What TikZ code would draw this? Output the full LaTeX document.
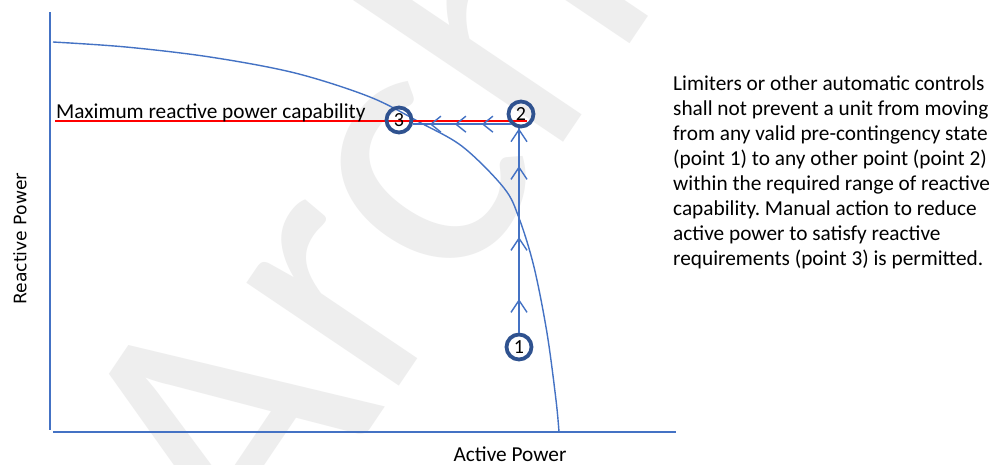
\documentclass[tikz,border=0pt]{standalone}
\usepackage{fontspec}
\setmainfont{Carlito}
\newfontfamily\dejavu{DejaVu Sans}
\usetikzlibrary{arrows.meta,decorations.markings}
\definecolor{lineblue}{RGB}{68,114,196}
\definecolor{ringblue}{RGB}{47,82,143}
\definecolor{wmgray}{RGB}{238,238,238}
\frenchspacing
\begin{document}
\begin{tikzpicture}[x=1pt,y=-1pt,
  axisline/.style={draw=lineblue, line width=2pt},
  capcurve/.style={draw=lineblue, line width=1.4pt},
  flowline/.style={draw=lineblue, line width=1.4pt},
  ring/.style={circle, draw=ringblue, line width=3.8pt, minimum size=25pt, inner sep=0pt, font=\fontsize{20}{20}\selectfont},
  txt/.style={inner sep=0pt, font=\fontsize{21.3}{25}\selectfont}
]
\useasboundingbox (0,0) rectangle (991,464);
\fill[white] (0,0) rectangle (991,464);
% watermark
\node[wmgray, rotate=56, anchor=base west, inner sep=0pt, font=\fontsize{385}{385}\selectfont] (wm) at (261,591) {Archive};
% axes
\coordinate (ytop) at (50,12);
\coordinate (ybot) at (50,430);
\coordinate (xl) at (53,432);
\coordinate (xr) at (676,432);
\draw[axisline] (ytop) -- (ybot);
\draw[axisline] (xl) -- (xr);
% capability curve
\draw[capcurve] plot[smooth, tension=0.55] coordinates {(53,42) (126,47) (210,57) (295,73) (370,97) (421,123) (463,147) (504,188) (519,218) (534,267) (547,333) (556,400) (559,432)};
% max reactive line
\coordinate (rl) at (55,121);
\coordinate (rr) at (527,121);
\draw[red, line width=1.8pt] (rl) -- (rr);
\node[txt, anchor=base west] (maxlbl) at (56,118) {Maximum reactive power capability};
% points
\node[ring] (c1) at (519,347) {1};
\node[ring] (c2) at (521,114) {2};
\node[ring] (c3) at (399,120) {3};
% vertical flow
\draw[flowline, decoration={markings,
   mark=at position 33.5pt with {\arrow{Straight Barb[length=12pt, width=16pt]}},
   mark=at position 95.5pt with {\arrow{Straight Barb[length=12pt, width=16pt]}},
   mark=at position 166.5pt with {\arrow{Straight Barb[length=12pt, width=16pt]}},
   mark=at position 1 with {\arrow{Straight Barb[length=12pt, width=16pt]}}}, postaction={decorate}]
   (c1.north) -- (c1.north |- c2.south);
% horizontal flow
\draw[flowline, decoration={markings,
   mark=at position 29pt with {\arrow{Straight Barb[length=10pt, width=16pt]}},
   mark=at position 56pt with {\arrow{Straight Barb[length=10pt, width=16pt]}},
   mark=at position 81pt with {\arrow{Straight Barb[length=10pt, width=16pt]}}}, postaction={decorate}]
   (c2.south west) -- (c3.east |- c2.south west);
% axis labels
\node[txt, anchor=base] (xlbl) at (510,461) {Active Power};
\node[inner sep=0pt, rotate=90, anchor=base, font=\dejavu\fontsize{17.2}{17.2}\selectfont] (ylbl) at (26.5,239) {Reactive Power};
% description
\node[txt, anchor=north west, align=left] (desc) at (673,75.5) {Limiters or other automatic controls\\shall not prevent a unit from moving\\from any valid pre-contingency state\\(point 1) to any other point (point 2)\\within the required range of reactive\\capability. Manual action to reduce\\active power to satisfy reactive\\requirements (point 3) is permitted.};
\end{tikzpicture}
\end{document}
